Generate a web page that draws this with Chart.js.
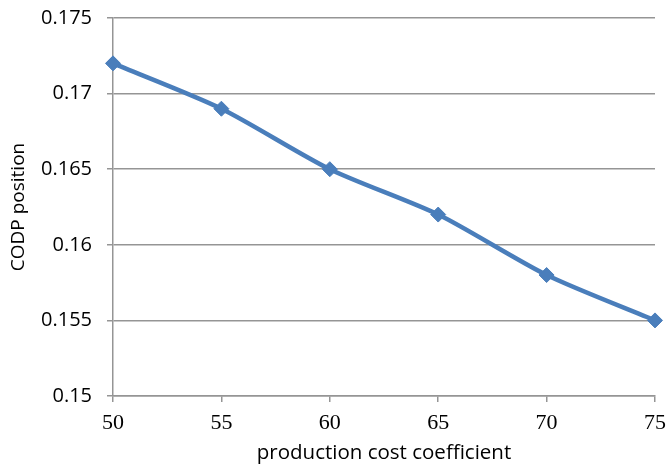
<!DOCTYPE html>
<html>
<head>
<meta charset="utf-8">
<script src="https://cdn.jsdelivr.net/npm/chart.js@4"></script>
<style>
  html, body { margin: 0; padding: 0; background: #fff; }
  #wrap { width: 669px; height: 467px; position: relative; }
</style>
</head>
<body>
<div id="wrap"><canvas id="chart"></canvas></div>
<script>
// values
const costCoefficients = ['50', '55', '60', '65', '70', '75']
const codpPositions = [0.172, 0.169, 0.165, 0.162, 0.158, 0.155]
const yMin = 0.15, yMax = 0.175, yStep = 0.005

const blue = '#4a7ebb'
const gridGray = '#959595'

new Chart(document.getElementById('chart'), {
  type: 'line',
  data: {
    labels: costCoefficients,
    datasets: [{
      label: 'CODP position',
      data: codpPositions,
      borderColor: blue,
      backgroundColor: blue,
      borderWidth: 4.5,
      tension: 0.25,
      pointStyle: 'rectRot',
      pointRadius: 7.5,
      pointBorderWidth: 1,
      pointBorderColor: blue,
      pointBackgroundColor: blue,
    }]
  },
  options: {
    responsive: true,
    maintainAspectRatio: false,
    animation: false,
    layout: { padding: { left: 0, right: 14, top: 18, bottom: 0 } },
    plugins: {
      legend: { display: false },
      tooltip: { enabled: false }
    },
    scales: {
      x: {
        type: 'category',
        offset: false,
        afterFit: (s) => {
          s.height = 71
          s.paddingLeft = 0   // don't let label overhang move the plot edge
          s.paddingRight = 0
        },
        grid: { drawOnChartArea: false, drawTicks: true, tickLength: 6, color: gridGray, lineWidth: 1.5 },
        border: { display: true, color: gridGray, width: 1.5 },
        ticks: {
          padding: 8,
          maxRotation: 0,
          color: '#000',
          font: { family: '"Liberation Serif", "DejaVu Serif", serif', size: 22 }
        },
        title: {
          display: true,
          text: 'production cost coefficient',
          color: '#000',
          padding: { top: 0, bottom: 2 },
          font: { family: '"Open Sans", sans-serif', size: 20.5 }
        }
      },
      y: {
        min: yMin,
        max: yMax,
        afterFit: (s) => {
          s.width = 113
          s.paddingTop = 0
          s.paddingBottom = 0
        },
        grid: { color: gridGray, lineWidth: 1.5, tickLength: 6 },
        border: { display: true, color: gridGray, width: 1.5 },
        ticks: {
          stepSize: yStep,
          padding: 15,
          color: '#000',
          font: { family: '"Open Sans", sans-serif', size: 20 },
          callback: (v) => String(Number(v.toFixed(3)))
        },
        title: {
          display: true,
          text: 'CODP position',
          color: '#000',
          padding: { top: 7, bottom: 0 },
          font: { family: '"Open Sans", sans-serif', size: 19 }
        }
      }
    }
  }
})
</script>
</body>
</html>
